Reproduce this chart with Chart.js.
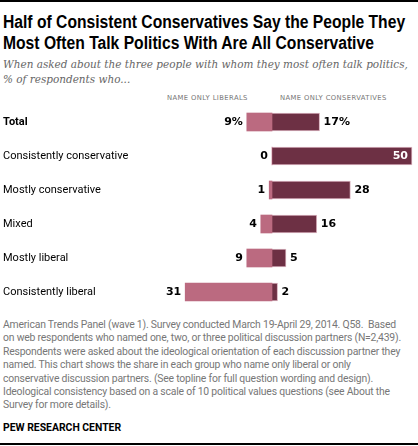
<!DOCTYPE html>
<html><head><meta charset="utf-8">
<script src="https://cdn.jsdelivr.net/npm/chart.js"></script>
<style>
body{margin:0;width:418px;height:446px;position:relative;background:#fff;font-family:"Roboto",sans-serif;overflow:hidden}
.topline{position:absolute;left:0;top:0;width:418px;height:2px;background:#000}
.botline{position:absolute;left:0;top:443px;width:418px;height:2px;background:#000}
.title{position:absolute;left:3px;top:12px;font-family:"Liberation Sans",sans-serif;font-weight:bold;font-size:18px;line-height:21px;color:#000;white-space:nowrap;transform-origin:0 0}
.sub{position:absolute;left:3px;top:57px;font-family:"DejaVu Serif",serif;font-style:italic;font-size:10.5px;line-height:15px;color:#666;white-space:nowrap;transform-origin:0 0}
.hdr{position:absolute;top:94px;font-family:"DejaVu Sans",sans-serif;font-size:6.8px;color:#777;letter-spacing:0.4px;white-space:nowrap}
.foot{position:absolute;left:3px;top:318px;font-size:10.4px;line-height:13.4px;color:#777;white-space:nowrap;letter-spacing:-0.2px}
.pew{position:absolute;left:3px;top:421px;font-size:10.4px;color:#000;font-weight:bold}
#wrap{position:absolute;left:0;top:105px;width:418px;height:204px}
</style></head><body>
<div class="topline"></div>
<div class="title" id="t">Half of Consistent Conservatives Say the People They<br>Most Often Talk Politics With Are All Conservative</div>
<div class="sub" id="s">When asked about the three people with whom they most often talk politics,<br>% of respondents who...</div>
<div class="hdr" style="left:167px">NAME ONLY LIBERALS</div>
<div class="hdr" style="left:280px">NAME ONLY CONSERVATIVES</div>
<div id="wrap"><canvas id="c"></canvas></div>
<div class="foot">American Trends Panel (wave 1). Survey conducted March 19-April 29, 2014. Q58.&nbsp; Based<br>on web respondents who named one, two, or three political discussion partners (N=2,439).<br>Respondents were asked about the ideological orientation of each discussion partner they<br>named. This chart shows the share in each group who name only liberal or only<br>conservative discussion partners. (See topline for full question wording and design).<br>Ideological consistency based on a scale of 10 political values questions (see About the<br>Survey for more details).</div>
<div class="pew">PEW RESEARCH CENTER</div>
<div class="botline"></div>
<script>
function fit(id,w){const e=document.getElementById(id);const r=e.scrollWidth;e.style.transform='scaleX('+(w/r)+')';}
fit('t',402);fit('s',405);
const categories=["Total","Consistently conservative","Mostly conservative","Mixed","Mostly liberal","Consistently liberal"];
const liberals=[9,0,1,4,9,31];
const conservatives=[17,50,28,16,5,2];
const libLabels=["9%","0","1","4","9","31"];
const conLabels=["17%","50","28","16","5","2"];

const labelPlugin={id:'lbl',afterDatasetsDraw(ch){
  const ctx=ch.ctx,y=ch.scales.y,x=ch.scales.x;
  ctx.save();ctx.textBaseline='middle';
  categories.forEach((c,i)=>{
    const py=y.getPixelForValue(i);
    ctx.fillStyle='#000';ctx.textAlign='left';
    ctx.font=(i===0?'bold ':'')+'11px Roboto, sans-serif';
    ctx.fillText(c,3,py);
    ctx.font='bold 11px "DejaVu Sans", sans-serif';
    ctx.textAlign='right';
    ctx.fillText(libLabels[i],x.getPixelForValue(-liberals[i])-4,py);
    if(conservatives[i]>=45){ctx.fillStyle='#fff';ctx.fillText(conLabels[i],x.getPixelForValue(conservatives[i])-4,py);}
    else{ctx.textAlign='left';ctx.fillText(conLabels[i],x.getPixelForValue(conservatives[i])+4,py);}
  });
  ctx.restore();
}};
new Chart(document.getElementById('c'),{
  type:'bar',
  data:{labels:categories,datasets:[
    {data:liberals.map(v=>-v),backgroundColor:'#bb6a80',borderWidth:0,barThickness:18},
    {data:conservatives,backgroundColor:'#6d3044',borderColor:'#d9b3bf',borderWidth:1,borderSkipped:'left',barThickness:18}
  ]},
  options:{indexAxis:'y',responsive:true,maintainAspectRatio:false,animation:false,
    layout:{padding:0},
    plugins:{legend:{display:false},tooltip:{enabled:false}},
    scales:{
      x:{display:false,stacked:true,min:-97.14,max:52.14},
      y:{display:false,stacked:true}
    }},
  plugins:[labelPlugin]
});
</script>
</body></html>
